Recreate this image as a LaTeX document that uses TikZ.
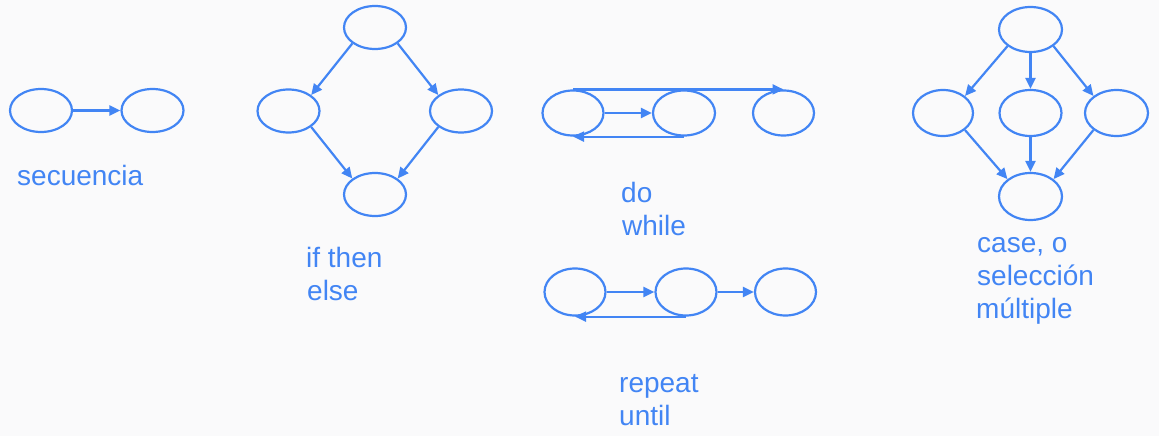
\documentclass[tikz,border=0pt]{standalone}
\usepackage{fontspec}
\setmainfont{Liberation Sans}
\usetikzlibrary{shapes.geometric,arrows.meta}
\definecolor{gblue}{RGB}{66,133,244}
\definecolor{bgc}{RGB}{250,250,251}
\begin{document}
\begin{tikzpicture}[x=1pt,y=-1pt,
  ell/.style={ellipse,draw=gblue,line width=2.2pt,minimum width=61pt,minimum height=44pt,inner sep=0pt},
  arr/.style={draw=gblue,line width=2.2pt,-{Triangle[length=11pt,width=10pt]}},
  lbl/.style={anchor=base west,inner sep=0pt,text=gblue,font=\fontsize{28pt}{33pt}\selectfont}]
\fill[bgc] (0,0) rectangle (1159,436);
\useasboundingbox (0,0) rectangle (1159,436);
% secuencia
\node[ell,minimum width=62pt,minimum height=43pt] (sa) at (41,110.5) {};
\node[ell,minimum width=62pt,minimum height=43pt] (sb) at (152.5,110.5) {};
\draw[arr] (sa) -- (sb);
\node[lbl] (tsec) at (17,185) {secuencia};
% if then else
\node[ell,minimum width=62pt,minimum height=43pt] (it) at (375,27.5) {};
\node[ell,minimum width=62pt,minimum height=43pt] (il) at (288.5,111) {};
\node[ell,minimum width=62pt,minimum height=43pt] (ir) at (461,111) {};
\node[ell,minimum width=62pt,minimum height=43pt] (ib) at (375,194.5) {};
\draw[arr] (it.south west) -- (il.north east);
\draw[arr] (it.south east) -- (ir.north west);
\draw[arr] (il.south east) -- (ib.north west);
\draw[arr] (ir.south west) -- (ib.north east);
\node[lbl] (tif1) at (306,267) {if then};
\node[lbl] (tif2) at (307,300) {else};
% do while
\node[ell,minimum height=45pt] (da) at (573,113) {};
\node[ell,minimum width=62pt,minimum height=45pt] (db) at (684,113) {};
\node[ell,minimum height=45pt] (dc) at (783.5,113) {};
\draw[arr] (da) -- (db);
\draw[arr] (da.north) -- (dc.north);
\draw[arr] (db.south) -- (da.south);
\node[lbl] (tdo1) at (621,202) {do};
\node[lbl] (tdo2) at (622,235) {while};
% repeat until
\node[ell,minimum height=47pt] (ra) at (575,292) {};
\node[ell,minimum height=47pt] (rb) at (686,292) {};
\node[ell,minimum height=47pt] (rc) at (785.5,292) {};
\draw[arr] (ra) -- (rb);
\draw[arr] (rb) -- (rc);
\draw[arr] (rb.south) -- (ra.south);
\node[lbl] (trp1) at (619,392) {repeat};
\node[lbl] (trp2) at (619,425) {until};
% case
\node[ell,minimum width=63pt,minimum height=45pt] (ct) at (1030.5,29.5) {};
\node[ell,minimum width=60pt,minimum height=46pt] (cl) at (943,113) {};
\node[ell,minimum width=62pt,minimum height=46pt] (cm) at (1030.5,113) {};
\node[ell,minimum width=63pt,minimum height=46pt] (cr) at (1116.5,113) {};
\node[ell,minimum width=63pt,minimum height=47pt] (cb) at (1030.5,196.5) {};
\draw[arr] (ct.south west) -- (cl.north east);
\draw[arr] (ct.south) -- (cm.north);
\draw[arr] (ct.south east) -- (cr.north west);
\draw[arr] (cl.south east) -- (cb.north west);
\draw[arr] (cm.south) -- (cb.north);
\draw[arr] (cr.south west) -- (cb.north east);
\node[lbl] (tca1) at (977,252) {case, o};
\node[lbl] (tca2) at (977,285) {selección};
\node[lbl] (tca3) at (976,318) {múltiple};
\end{tikzpicture}
\end{document}
